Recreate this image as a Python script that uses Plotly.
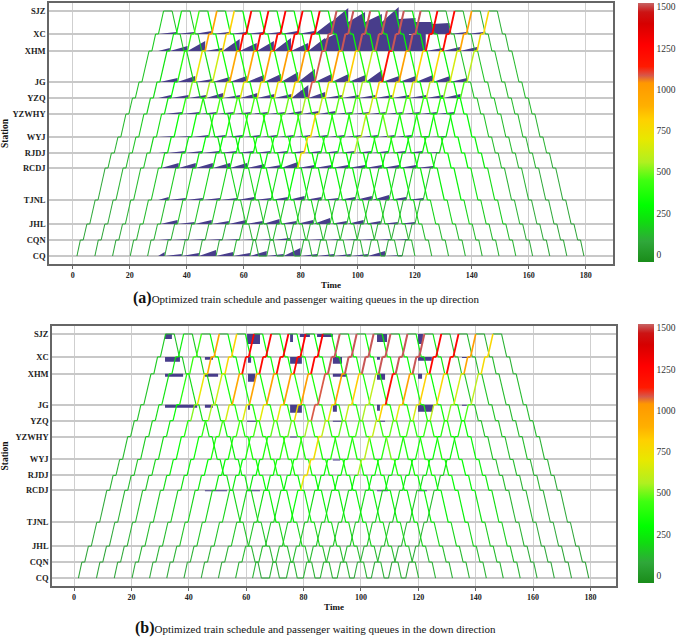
import plotly.graph_objects as go
from plotly.colors import sample_colorscale

# ---------------- data ----------------
stations = ["CQ", "CQN", "JHL", "TJNL", "RCDJ", "RJDJ", "WYJ", "YZWHY", "YZQ", "JG", "XHM", "XC", "SJZ"]
station_pos = [0, 16, 32, 56, 88, 103, 119, 142, 158, 174, 205, 222, 245]
time_ticks = [0, 20, 40, 60, 80, 100, 120, 140, 160, 180]

# section running times (min), CQ->SJZ order
run_times = [1.2, 1.3, 1.9, 2.5, 1.2, 1.3, 1.8, 1.3, 1.3, 2.5, 1.3, 1.8]
dwell_time = 1.0
turn_sjz = 3.0

# departure of each up trip from CQ (min)
dep_cq = [1.5, 7.8, 14.0, 20.2, 26.3, 32.3, 38.3, 44.3, 50.3, 56.3,
          62.2, 68.1, 74.0, 79.9, 85.8, 91.7, 97.6, 103.6, 109.6, 115.6]

# on-board load per up trip and section (CQ->SJZ)
up_load = [
    [60, 70, 80, 90, 100, 110, 120, 130, 140, 150, 160, 170],
    [60, 70, 90, 100, 120, 140, 160, 180, 200, 220, 240, 250],
    [70, 80, 100, 120, 150, 180, 210, 240, 300, 380, 420, 440],
    [80, 100, 120, 150, 200, 250, 300, 380, 520, 720, 930, 960],
    [80, 100, 120, 160, 220, 260, 320, 400, 560, 640, 780, 800],
    [90, 110, 140, 180, 240, 300, 360, 450, 650, 950, 1220, 1250],
    [90, 110, 140, 180, 240, 300, 360, 460, 680, 960, 1220, 1250],
    [90, 110, 140, 180, 240, 300, 360, 460, 700, 980, 1230, 1260],
    [90, 110, 140, 180, 240, 300, 360, 470, 720, 1000, 1230, 1260],
    [100, 120, 150, 200, 260, 320, 400, 500, 760, 1000, 1240, 1270],
    [100, 120, 150, 200, 260, 320, 420, 560, 1085, 1090, 1510, 1525],
    [100, 120, 150, 300, 720, 760, 740, 600, 700, 1000, 1510, 1525],
    [100, 120, 150, 200, 260, 320, 380, 480, 620, 820, 1510, 1525],
    [100, 120, 150, 200, 260, 320, 380, 450, 560, 600, 1510, 1525],
    [100, 120, 150, 200, 260, 560, 600, 620, 800, 1200, 1510, 1525],
    [100, 120, 150, 200, 260, 320, 380, 480, 700, 980, 1510, 1525],
    [90, 110, 140, 180, 240, 300, 360, 450, 650, 800, 1250, 1260],
    [80, 100, 130, 170, 220, 280, 340, 420, 600, 780, 1230, 1250],
    [70, 90, 110, 150, 200, 250, 300, 380, 520, 650, 960, 1000],
    [60, 80, 100, 130, 170, 210, 260, 330, 450, 600, 760, 780],
]

# on-board load per down trip and section (SJZ->CQ)
down_load = [
    [150, 170, 200, 220, 240, 250, 240, 220, 180, 150, 110, 90],
    [160, 180, 210, 230, 250, 260, 250, 230, 190, 150, 110, 90],
    [280, 300, 330, 350, 360, 350, 330, 300, 250, 180, 130, 100],
    [280, 300, 330, 350, 360, 350, 330, 300, 250, 180, 130, 100],
    [290, 310, 340, 360, 370, 350, 330, 300, 250, 180, 130, 100],
    [290, 310, 340, 360, 370, 360, 340, 300, 250, 180, 130, 100],
    [300, 320, 350, 370, 380, 360, 340, 300, 250, 180, 130, 100],
    [300, 320, 350, 370, 380, 360, 340, 300, 250, 180, 130, 100],
    [300, 320, 350, 370, 380, 360, 340, 300, 250, 180, 130, 100],
    [300, 320, 350, 370, 380, 360, 340, 300, 250, 180, 130, 100],
    [300, 320, 350, 380, 420, 500, 380, 300, 250, 180, 130, 100],
    [290, 310, 340, 360, 370, 350, 330, 300, 250, 180, 130, 100],
    [290, 310, 340, 360, 370, 350, 330, 300, 250, 180, 130, 100],
    [280, 300, 330, 350, 360, 350, 330, 300, 250, 180, 130, 100],
    [260, 280, 300, 320, 330, 320, 300, 270, 220, 170, 120, 100],
    [220, 240, 260, 280, 290, 280, 260, 240, 200, 160, 120, 100],
    [130, 140, 150, 150, 150, 140, 130, 120, 110, 100, 90, 80],
    [120, 130, 140, 140, 140, 130, 120, 110, 100, 90, 80, 70],
    [110, 120, 130, 130, 130, 120, 110, 100, 90, 80, 70, 60],
    [100, 110, 120, 120, 120, 110, 100, 90, 80, 70, 60, 50],
]
turn_load = 90
layover_load = 70

# ---- up-direction waiting queues (height in axis units) ----
q_start_time = 30.0
q_up_first = [5, 5, 5, 4, 4, 3, 3, 2, 2, 2, 1, 1]   # first trip served, per station CQ..XC
q_up_peak = [
    [4, 2, 3, 6, 4, 3, 5, 2, 8, 2, 2, 2, 2, 5, 1],                                # CQ
    [1, 1, 1, 1, 1, 1, 1, 2, 1, 1, 1, 1, 1, 1, 1],                                # CQN
    [4, 2, 4, 3, 4, 3, 5, 3, 4, 6, 3, 4, 3, 2, 2],                                # JHL
    [3, 2, 2, 2, 2, 3, 2, 3, 4, 3, 2, 3, 4, 5, 3, 2],                             # TJNL
    [5, 5, 5, 5, 5, 4, 3, 6, 3, 3, 3, 3, 3, 3, 3, 2],                             # RCDJ
    [1, 2, 2, 2, 2, 2, 2, 2, 2, 2, 2, 2, 2, 2, 2, 2, 1],                          # RJDJ
    [1, 1, 2, 2, 2, 2, 2, 2, 2, 2, 2, 2, 2, 2, 2, 1, 1],                          # WYJ
    [0.5, 2, 2, 2, 2, 2, 2, 2, 3, 3, 3, 2, 2, 2, 2, 2, 2, 2],                     # YZWHY
    [3, 3, 3, 5, 3, 5, 4, 4, 13, 6, 3, 3, 3, 3, 3, 3, 3, 4],                      # YZQ
    [4, 6, 3, 5, 6, 7, 8, 10, 13, 8, 8, 7, 12, 6, 6, 7, 6, 4],                    # JG
    [3, 5, 10, 3, 12, 8, 10, 13, 8, 13, 20, 21, 21, 21, 21, 18, 3, 4, 4],         # XHM
    [2, 2, 3, 2, 2, 2, 2, 3, 3, 13, 26, 22, 20, 27, 16, 12, 11, 2, 2],            # XC
]
q_up_resid = {
    10: [0, 0, 0, 0, 0, 0, 0, 0, 0, 12, 17, 17, 17, 17, 16, 0, 0, 0, 0],
    11: [0, 0, 0, 0, 0, 0, 0, 0, 0, 12, 12, 12, 12, 15, 12, 10, 0, 0, 0],
}

# ---- down-direction waiting queues (station index, start, end, size) ----
dn_q_station = [12, 12, 12, 12, 12, 12, 12,
                11, 11, 11, 11, 11, 11, 11, 11,
                10, 10, 10, 10, 10, 10,
                9, 9, 9, 9, 9, 9, 9, 9,
                8, 8, 8, 7, 6, 4, 4, 4, 4]
dn_q_start = [31.7, 60.3, 75.3, 78.7, 84.7, 105.6, 119.9,
              31.7, 45.6, 60.6, 75.3, 90.2, 105.6, 119.9, 135.2,
              31.7, 45.6, 60.6, 90.2, 105.6, 119.9,
              31.7, 45.6, 60.6, 75.3, 90.2, 105.6, 119.9, 135.2,
              60.3, 90.2, 105.6, 75.3, 90.2, 45.6, 60.3, 105.6, 119.9]
dn_q_end = [34.1, 64.8, 76.3, 82.2, 90.2, 109.1, 121.6,
            36.9, 48.4, 61.7, 79.4, 93.4, 106.6, 124.7, 138.0,
            38.0, 50.2, 63.1, 95.1, 108.4, 121.3,
            42.9, 48.4, 61.3, 79.4, 91.6, 106.6, 125.1, 136.9,
            63.8, 93.4, 108.4, 77.7, 92.7, 53.3, 64.8, 109.4, 123.0]
dn_q_size = [5, 10, 8, 3, 3, 8, 10,
             5, 3, 6, 7, 7, 3, 4, 1,
             3, 3, 8, 3, 6, 5,
             3, 3, 5, 8, 7, 6, 7, 1,
             1, 1, 1, 1, 1, 1, 1, 1, 1]

cbar_ticks = [0, 250, 500, 750, 1000, 1250, 1500]
cmin, cmax = -45, 1525
cs_vals = [-45, 80, 200, 300, 450, 560, 700, 820, 900, 1040, 1085, 1140, 1270, 1400, 1470, 1525]
cs_cols = ['#1a8c1a', '#2fa83a', '#10dc10', '#00ff00', '#40ff10', '#b0f020', '#e8e800', '#ffd000',
           '#ffb000', '#ff9800', '#d8584a', '#ff1a00', '#ff0000', '#d60000', '#cc1414', '#c86464']
colorscale = [[(v - cmin) / (cmax - cmin), c] for v, c in zip(cs_vals, cs_cols)]

QUEUE_COLOR = '#483d8b'
FONT = 'Liberation Serif'

# ---------------- schedule geometry ----------------
n_sec = len(run_times)
arr_off = [0.0]
dep_off = [0.0]
for i in range(n_sec):
    a = dep_off[i] + run_times[i]
    arr_off.append(a)
    dep_off.append(a + dwell_time if i + 1 < n_sec else a)

segs = []
taken = set()
for k, d in enumerate(dep_cq):
    t = d
    for s in range(n_sec):
        t1 = t + run_times[s]
        segs.append((t, station_pos[s], t1, station_pos[s + 1], up_load[k][s]))
        if s + 1 < n_sec:
            segs.append((t1, station_pos[s + 1], t1 + dwell_time, station_pos[s + 1], up_load[k][s]))
            t = t1 + dwell_time
        else:
            t = t1
    segs.append((t, station_pos[-1], t + turn_sjz, station_pos[-1], turn_load))
    t += turn_sjz
    for j in range(n_sec):
        s_from = n_sec - j
        s_to = s_from - 1
        t1 = t + run_times[s_to]
        segs.append((t, station_pos[s_from], t1, station_pos[s_to], down_load[k][j]))
        if s_to > 0:
            segs.append((t1, station_pos[s_to], t1 + dwell_time, station_pos[s_to], down_load[k][j]))
            t = t1 + dwell_time
        else:
            t = t1
    for m in range(k + 1, len(dep_cq)):
        if m not in taken and dep_cq[m] >= t:
            taken.add(m)
            segs.append((t, station_pos[0], dep_cq[m], station_pos[0], layover_load))
            break

N_BINS = 80
bins = {}
for (x0, y0, x1, y1, L) in segs:
    b = min(N_BINS - 1, max(0, int((L - cmin) / (cmax - cmin) * N_BINS)))
    bins.setdefault(b, ([], []))
    bins[b][0].extend([x0, x1, None])
    bins[b][1].extend([y0, y1, None])

fig = go.Figure()


def add_queues_up(xa, ya):
    xs, ys = [], []
    for s in range(12):
        k0 = q_up_first[s]
        res = q_up_resid.get(s)
        base = station_pos[s]
        for i, pk in enumerate(q_up_peak[s]):
            k = k0 + i
            t_end = dep_cq[k] + dep_off[s]
            t_beg = max(q_start_time, dep_cq[k - 1] + dep_off[s]) if k > 0 else q_start_time
            r0 = res[i - 1] if (res and i > 0) else 0
            xs += [t_beg, t_beg, t_end, t_end, t_beg, None]
            ys += [base, base + r0, base + pk, base, base, None]
    fig.add_trace(go.Scatter(x=xs, y=ys, mode='lines', fill='toself', fillcolor=QUEUE_COLOR,
                             line=dict(width=0, color=QUEUE_COLOR), hoverinfo='skip',
                             showlegend=False, xaxis=xa, yaxis=ya))


def add_queues_down(xa, ya):
    xs, ys = [], []
    for st, a, b, h in zip(dn_q_station, dn_q_start, dn_q_end, dn_q_size):
        base = station_pos[st]
        xs += [a, a, b, b, a, None]
        ys += [base, base - h, base - h, base, base, None]
    fig.add_trace(go.Scatter(x=xs, y=ys, mode='lines', fill='toself', fillcolor=QUEUE_COLOR,
                             line=dict(width=0, color=QUEUE_COLOR), hoverinfo='skip',
                             showlegend=False, xaxis=xa, yaxis=ya))


def add_trains(xa, ya):
    for b in sorted(bins):
        frac = (b + 0.5) / N_BINS
        col = sample_colorscale(colorscale, frac)[0]
        L = cmin + frac * (cmax - cmin)
        w = 1.0 + 1.0 * max(0.0, L) / 1500
        xs, ys = bins[b]
        fig.add_trace(go.Scatter(x=xs, y=ys, mode='lines', line=dict(color=col, width=w),
                                 hoverinfo='skip', showlegend=False, xaxis=xa, yaxis=ya))


def add_cbar_dummy(xa, ya, cax):
    fig.add_trace(go.Scatter(x=[-100], y=[-100], mode='markers',
                             marker=dict(color=[0], coloraxis=cax, size=1, opacity=0),
                             hoverinfo='skip', showlegend=False, xaxis=xa, yaxis=ya))


add_queues_up('x', 'y')
add_trains('x', 'y')
add_cbar_dummy('x', 'y', 'coloraxis')
add_queues_down('x2', 'y2')
add_trains('x2', 'y2')
add_cbar_dummy('x2', 'y2', 'coloraxis2')

W, H = 685, 637


def px_x(p):
    return p / W


def px_y(p):
    return 1 - p / H


xaxis_common = dict(tickvals=time_ticks, showgrid=True, gridcolor='#cfcfcf', gridwidth=1,
                    zeroline=False, showline=True, mirror=True, linecolor='#666', linewidth=1.5,
                    ticks='outside', ticklen=3, tickcolor='#666', automargin=False,
                    tickfont=dict(family=FONT, size=8, color='#222', weight='bold'))
yaxis_common = dict(tickvals=station_pos, ticktext=stations, range=[-8, 253], showgrid=True,
                    gridcolor='#c8c8c8', gridwidth=1.5, zeroline=False, showline=True, mirror=True,
                    linecolor='#666', linewidth=1.5, ticks='', ticklen=0, automargin=False,
                    tickfont=dict(family=FONT, size=8.5, color='#222', weight='bold'))

cbar_common = dict(thickness=16, thicknessmode='pixels', lenmode='pixels', len=259,
                   xanchor='left', yanchor='top', xpad=0, ypad=0, outlinewidth=0,
                   tickvals=cbar_ticks, ticks='', ticklabelposition='outside',
                   tickfont=dict(family=FONT, size=9.5, color='#333'))

fig.update_layout(
    width=W, height=H, margin=dict(l=0, r=0, t=0, b=0, autoexpand=False),
    paper_bgcolor='white', plot_bgcolor='white', hovermode=False,
    xaxis=dict(domain=[px_x(49), px_x(613)], range=[-8.3, 189.6], anchor='y',
               title=dict(text='Time', font=dict(family=FONT, size=9, color='#111', weight='bold'),
                          standoff=2), **xaxis_common),
    yaxis=dict(domain=[px_y(264), px_y(3)], anchor='x',
               title=dict(text='Station', font=dict(family=FONT, size=9.5, color='#111', weight='bold'),
                          standoff=6), **yaxis_common),
    xaxis2=dict(domain=[px_x(52), px_x(616)], range=[-7.7, 188.9], anchor='y2',
                title=dict(text='Time', font=dict(family=FONT, size=9, color='#111', weight='bold'),
                           standoff=2), **xaxis_common),
    yaxis2=dict(domain=[px_y(586), px_y(326)], anchor='x2',
                title=dict(text='Station', font=dict(family=FONT, size=9.5, color='#111', weight='bold'),
                           standoff=6), **yaxis_common),
    coloraxis=dict(colorscale=colorscale, cmin=cmin, cmax=cmax,
                   colorbar=dict(x=px_x(638), y=px_y(3), **cbar_common)),
    coloraxis2=dict(colorscale=colorscale, cmin=cmin, cmax=cmax,
                    colorbar=dict(x=px_x(638), y=px_y(324), **cbar_common)),
    annotations=[
        dict(text="<b><span style='font-size:16px'>(a)</span></b>Optimized train schedule and passenger waiting queues in the up direction",
             x=px_x(306), y=px_y(298), xref='paper', yref='paper', xanchor='center', yanchor='middle',
             showarrow=False, font=dict(family=FONT, size=11, color='#111')),
        dict(text="<b><span style='font-size:16px'>(b)</span></b>Optimized train schedule and passenger waiting queues in the down direction",
             x=px_x(315), y=px_y(628), xref='paper', yref='paper', xanchor='center', yanchor='middle',
             showarrow=False, font=dict(family=FONT, size=11, color='#111')),
    ],
)

fig.write_html("out.html", config={'displayModeBar': False},
               post_script="document.body.style.margin='0px';document.body.style.overflow='hidden';")
